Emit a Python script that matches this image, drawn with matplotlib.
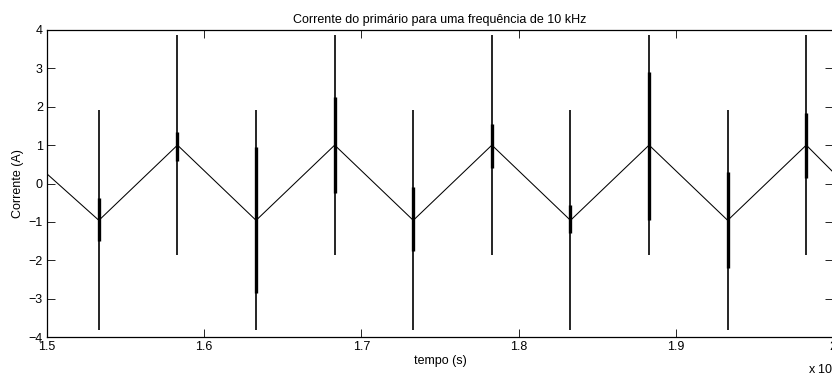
import matplotlib
matplotlib.use("Agg")
import matplotlib.pyplot as plt

# Triangle-wave vertices (time in ms, current in A)
t_vertices = [1.5, 1.533, 1.583, 1.633, 1.683, 1.733, 1.783, 1.833, 1.883, 1.933, 1.983, 2.0]
i_vertices = [0.25, -0.96, 1.0, -0.96, 1.0, -0.96, 1.0, -0.96, 1.0, -0.96, 1.0, 0.30]

# Switching spikes
spike_t = [1.533, 1.583, 1.633, 1.683, 1.733, 1.783, 1.833, 1.883, 1.933, 1.983]
spike_hi = [1.92, 3.87, 1.92, 3.87, 1.92, 3.87, 1.92, 3.87, 1.92, 3.87]
spike_lo = [-3.81, -1.86, -3.81, -1.86, -3.81, -1.86, -3.81, -1.86, -3.81, -1.86]
thick_hi = [-0.38, 1.35, 0.96, 2.26, -0.08, 1.55, -0.56, 2.91, 0.31, 1.84]
thick_lo = [-1.51, 0.59, -2.85, -0.25, -1.77, 0.41, -1.30, -0.95, -2.20, 0.15]

x_ticks = [1.5, 1.6, 1.7, 1.8, 1.9, 2.0]
x_ticklabels = ["1.5", "1.6", "1.7", "1.8", "1.9", "2"]
y_ticks = [-4, -3, -2, -1, 0, 1, 2, 3, 4]

plt.rcParams['font.family'] = ['Liberation Sans', 'DejaVu Sans']

fig = plt.figure(figsize=(8.32, 3.76), dpi=100)
ax = fig.add_axes([47/832, 1 - 337/376, 786/832, 307/376])

ax.plot(t_vertices, i_vertices, color='black', lw=0.75)
ax.vlines(spike_t, spike_lo, spike_hi, color='black', lw=1.2)
ax.vlines(spike_t, thick_lo, thick_hi, color='black', lw=2.4)

ax.set_xlim(1.5, 2.0)
ax.set_ylim(-4, 4)
ax.set_xticks(x_ticks)
ax.set_xticklabels(x_ticklabels)
ax.set_yticks(y_ticks)
ax.tick_params(direction='in', top=True, right=True, length=6, width=0.6,
               labelsize=9, pad=3)
for s in ax.spines.values():
    s.set_linewidth(0.9)

ax.set_title("Corrente do primário para uma frequência de 10 kHz", fontsize=9, pad=5)
ax.set_xlabel("tempo (s)", fontsize=9, labelpad=1)
ax.set_ylabel("Corrente (A)", fontsize=9, labelpad=3)
fig.text(808/832, 1 - 369/376, "x 10$^{-3}$", fontsize=9, ha='left', va='center')

fig.savefig("out.png", dpi=100)
